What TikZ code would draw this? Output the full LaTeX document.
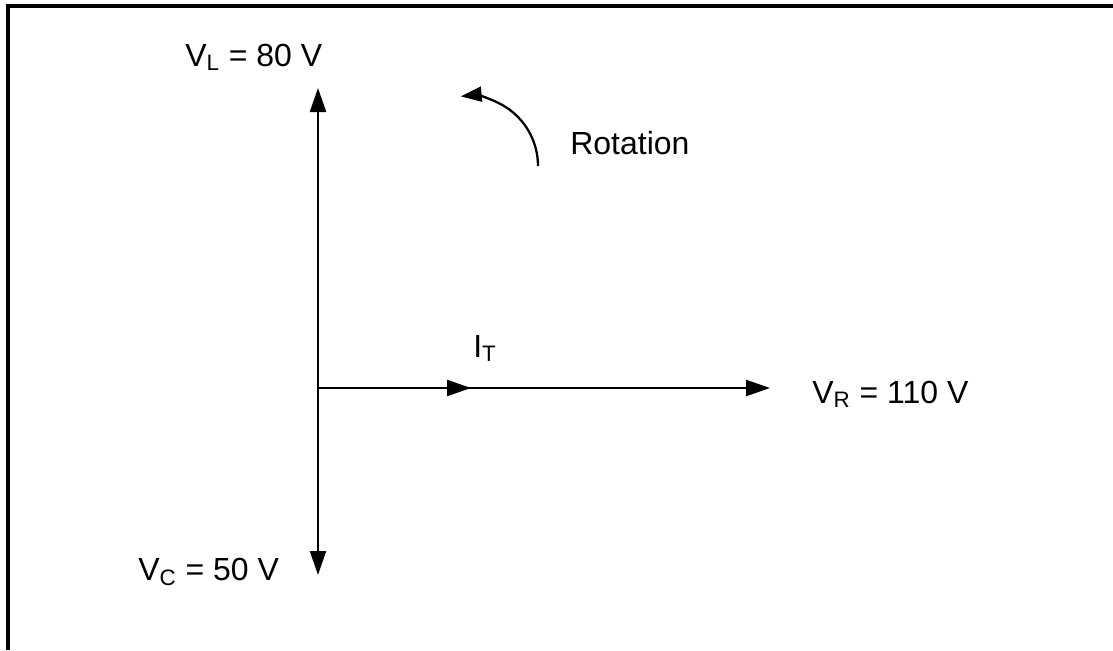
\documentclass[tikz,border=0pt]{standalone}
\usepackage{fontspec}
\setmainfont{Liberation Sans}
\usetikzlibrary{arrows.meta,positioning}

\begin{document}
\begin{tikzpicture}[
  x=0.02cm, y=-0.02cm,
  lbl/.style={anchor=base west,inner sep=0pt,
              font=\fontsize{18.2}{20}\selectfont},
  phasor/.style={draw,line width=1.3pt,
                 -{Triangle[length=0.48cm,width=0.32cm]}},
  frame/.style={draw,line width=0.08cm},
]
  \useasboundingbox (0,0) rectangle (1113,650);
  \draw[frame] (8,650) -- (8,6) -- (1113,6);

  % phasor ends
  \coordinate (O)   at (318,388);
  \coordinate (VLt) at (318,88);
  \coordinate (VCt) at (318,575);
  \coordinate (VRt) at (770,388);
  \coordinate (ITt) at (471,388);
  \coordinate (rot) at (538,166);

  \node[lbl] (vl)  at (185,66)  {V\textsubscript{L} = 80 V};
  \node[lbl] (vc)  at (138,580) {V\textsubscript{C} = 50 V};
  \node[lbl] (vr)  at (812,403) {V\textsubscript{R} = 110 V};
  \node[lbl] (it)  at (473,357) {I\textsubscript{T}};
  \node[lbl] (rtx) at (570,154) {Rotation};

  \foreach \t in {VLt,VCt,VRt,ITt}
    \draw[phasor] (O) -- (\t);

  \draw[line width=1.3pt,-{Triangle[length=0.42cm,width=0.3cm]}]
    (rot) arc[start angle=0,end angle=-96,radius=70];
\end{tikzpicture}
\end{document}
